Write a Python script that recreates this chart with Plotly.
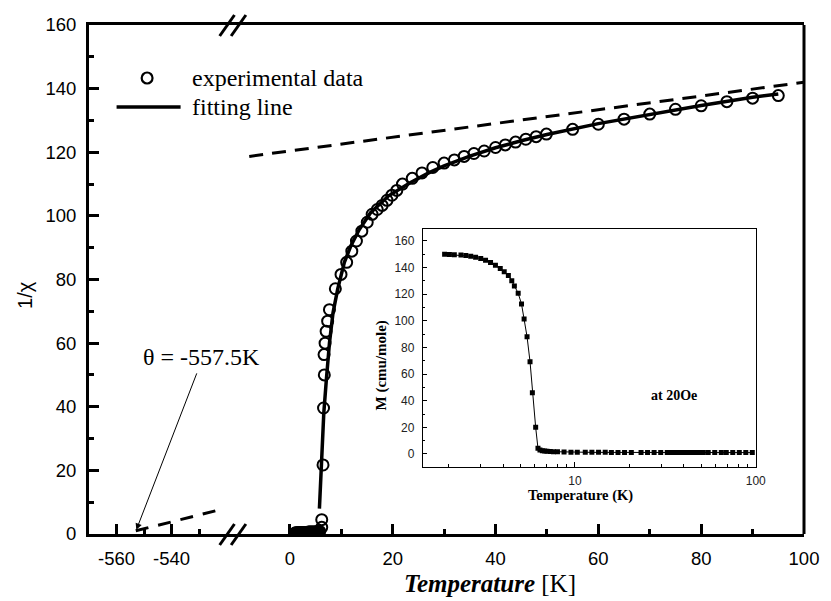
import plotly.graph_objects as go

# ---------------- data ----------------
# experimental 1/chi data (temperature in K)
exp_T = [1.0, 1.2, 1.4, 1.6, 1.8, 2.0, 2.2, 2.4, 2.6, 2.8, 3.0, 3.2, 3.4, 3.6, 3.8,
         4.0, 4.2, 4.4, 4.6, 4.8, 5.0, 5.2, 5.4, 5.6, 5.8,
         6.2, 6.2, 6.45, 6.55, 6.7, 6.65, 6.85, 7.05, 7.35, 7.7, 8.85, 9.95, 11.05,
         12.05, 12.95, 14.0, 15.05, 16.0, 17.0, 17.95, 18.9, 19.85, 20.8, 21.9,
         23.8, 25.7, 27.8, 30.0, 32.0, 33.9, 35.8, 37.8, 40.0, 41.9, 43.9, 45.9,
         47.9, 49.9, 55, 60, 65, 70, 75, 80, 85, 90, 95]
exp_Y = [0.3, 0.4, 0.4, 0.4, 0.5, 0.5, 0.5, 0.5, 0.5, 0.5, 0.5, 0.5, 0.5, 0.6, 0.6,
         0.6, 0.6, 0.6, 0.6, 0.6, 0.6, 0.7, 0.7, 0.7, 0.8,
         2.1, 4.5, 21.7, 39.6, 50.0, 56.4, 60.0, 63.7, 66.9, 70.5, 77.1, 81.6, 85.4,
         88.9, 92.1, 95.2, 98.0, 100.5, 102.0, 103.3, 104.9, 106.5, 108.0, 110.0,
         111.8, 113.5, 115.2, 116.6, 117.6, 118.7, 119.6, 120.4, 121.5, 122.3, 123.2, 124.1,
         124.9, 125.7, 127.2, 128.8, 130.4, 132.0, 133.5, 134.6, 135.9, 137.0, 137.8]

# fitting line
fit_T = [5.75, 6.1, 6.6, 7.1, 7.7, 8.4, 9.3, 10.6, 11.9, 13.5, 15.7, 19.2, 23.4,
         27, 30, 35, 40, 45, 50, 60, 70, 80, 90, 95]
fit_Y = [8, 22, 38, 48.5, 60, 69.6, 77, 85.4, 90.7, 95.7, 101, 106.3, 110.4,
         113.5, 115.7, 118.8, 121.4, 123.6, 125.6, 129, 131.9, 134.7, 137.3, 138.3]

# Curie-Weiss high temperature extrapolation (dashed), theta = -557.5 K
cw_T_left = [-553.0, -522.5]
cw_Y_left = [1.0, 7.6]
cw_T_right = [-7.9, 100]
cw_Y_right = [118.7, 142.0]

# inset: M vs T at 20 Oe
ins_T = [1.90, 2.02, 2.15, 2.34, 2.49, 2.65, 2.82, 3.01, 3.20, 3.41, 3.63, 3.86, 4.06,
         4.28, 4.47, 4.62, 4.85, 5.06, 5.23, 5.43, 5.64, 5.81, 6.06, 6.24,
         6.4, 6.6, 6.8, 7.0, 7.3, 7.6, 8.0, 8.7, 9.5, 10.3, 11.4, 12.4, 13.5, 14.7,
         15.9, 17.3, 18.8, 20.5, 23.2, 25.2, 27.4, 29.8, 32.4, 33.5, 34.6, 35.8, 37.0,
         38.2, 39.5, 40.8, 42.2, 43.6, 45.0, 46.5, 48.0, 49.6, 51.3, 54.6, 59.3, 64.5,
         68.7, 74.6, 81.1, 88.1, 95.7]
ins_M = [150.0, 149.8, 149.7, 149.4, 149.0, 148.5, 147.8, 146.9, 145.5, 143.9, 141.8,
         139.3, 136.8, 134.0, 130.2, 126.2, 120.7, 112.7, 101.4, 88.1, 69.3, 46.0,
         20.0, 4.3, 3.0, 2.5, 2.2, 2.0, 1.8, 1.7, 1.6, 1.4, 1.3, 1.3, 1.2, 1.2, 1.2,
         1.2, 1.1, 1.1, 1.1, 1.1, 1.1, 1.0, 1.0, 1.0, 1.0, 1.0, 1.0, 1.0, 1.0, 1.0,
         1.0, 1.0, 1.0, 1.0, 1.0, 1.0, 1.0, 1.0, 1.0, 1.0, 1.0, 1.0, 1.0, 1.0, 1.0,
         1.0, 1.0]

main_y_ticks = [0, 20, 40, 60, 80, 100, 120, 140, 160]
left_x_ticks = [-560, -540]
left_x_labels = ["-560", "-540"]
right_x_ticks = [0, 20, 40, 60, 80, 100]
inset_y_ticks = [0, 20, 40, 60, 80, 100, 120, 140, 160]
inset_x_ticks = [10, 100]

# ---------------- layout helpers ----------------
W, H = 831, 601
PL, PR, PT, PB = 89, 815, 25, 534


def px(x):
    return (x - PL) / (PR - PL)


def py(y):
    return (PB - y) / (PB - PT)


SERIF = "Liberation Serif, Times New Roman, serif"
SANS = "Liberation Sans, Arial, sans-serif"
BREAK = 235

fig = go.Figure()

# dashed Curie-Weiss line
fig.add_trace(go.Scatter(x=cw_T_left, y=cw_Y_left, xaxis="x", yaxis="y", mode="lines",
                         line=dict(color="black", width=3, dash="13px,10px"),
                         showlegend=False, hoverinfo="skip"))
fig.add_trace(go.Scatter(x=cw_T_right, y=cw_Y_right, xaxis="x2", yaxis="y", mode="lines",
                         line=dict(color="black", width=3, dash="14px,9px"),
                         showlegend=False, hoverinfo="skip"))
# fitting line
fig.add_trace(go.Scatter(x=fit_T, y=fit_Y, xaxis="x2", yaxis="y", mode="lines",
                         line=dict(color="black", width=3.5), name="fitting line",
                         showlegend=False))
# experimental data
fig.add_trace(go.Scatter(x=exp_T, y=exp_Y, xaxis="x2", yaxis="y", mode="markers",
                         cliponaxis=True,
                         marker=dict(symbol="circle-open", size=11, color="black",
                                     line=dict(width=2, color="black")),
                         name="experimental data", showlegend=False))
# inset
fig.add_trace(go.Scatter(x=ins_T, y=ins_M, xaxis="x3", yaxis="y3", mode="lines+markers",
                         line=dict(color="black", width=1),
                         marker=dict(symbol="square", size=5, color="black"),
                         showlegend=False))

tickfont_main = dict(family=SANS, size=18.5, color="black")
tickfont_ins = dict(family=SANS, size=12, color="#222")

fig.update_layout(
    width=W, height=H,
    margin=dict(l=PL, r=W - PR, t=PT, b=H - PB),
    paper_bgcolor="white", plot_bgcolor="white",
    xaxis=dict(domain=[0, px(BREAK)], range=[-570, -517.75], anchor="y",
               tickmode="array", tickvals=left_x_ticks, ticktext=left_x_labels,
               ticks="inside", ticklen=10,
               tickwidth=3, tickcolor="black", showline=True, linewidth=3,
               linecolor="black", mirror=True, showgrid=False, zeroline=False,
               tickfont=tickfont_main, ticklabelstandoff=6,
               minor=dict(tickmode="array", tickvals=[-550, -530], ticks="inside",
                          ticklen=5, tickwidth=3, tickcolor="black", showgrid=False)),
    xaxis2=dict(domain=[px(BREAK), 1], range=[-11.1, 100], anchor="y",
                tickmode="array", tickvals=right_x_ticks, ticks="inside", ticklen=10,
                tickwidth=3, tickcolor="black", showline=True, linewidth=3,
                linecolor="black", mirror=True, showgrid=False, zeroline=False,
                tickfont=tickfont_main, ticklabelstandoff=6,
                minor=dict(tickmode="array", tickvals=[10, 30, 50, 70, 90], ticks="inside",
                           ticklen=5, tickwidth=3, tickcolor="black", showgrid=False)),
    yaxis=dict(domain=[0, 1], range=[0, 160], anchor="x",
               tickmode="array", tickvals=main_y_ticks, ticks="inside", ticklen=10,
               tickwidth=3, tickcolor="black", showline=True, linewidth=3,
               linecolor="black", showgrid=False, zeroline=False,
               tickfont=tickfont_main, ticklabelstandoff=6,
               minor=dict(tickmode="array", tickvals=[10, 30, 50, 70, 90, 110, 130, 150],
                          ticks="inside", ticklen=5, tickwidth=3, tickcolor="black",
                          showgrid=False)),
    xaxis3=dict(domain=[px(428), px(766)], type="log", range=[0.1584, 2.0], anchor="y3",
                tickmode="array", tickvals=inset_x_ticks, ticktext=["10", "100"],
                ticks="inside", ticklen=5, tickwidth=1, tickcolor="black",
                showline=True, linewidth=1, linecolor="black", mirror=True,
                showgrid=False, zeroline=False, tickfont=tickfont_ins,
                ticklabelstandoff=3,
                minor=dict(tickmode="array",
                           tickvals=[2, 3, 4, 5, 6, 7, 8, 9, 20, 30, 40, 50, 60, 70, 80, 90],
                           ticks="inside", ticklen=3, tickwidth=1, tickcolor="black",
                           showgrid=False)),
    yaxis3=dict(domain=[py(467), py(229)], range=[-9.8, 169], anchor="x3",
                tickmode="array", tickvals=inset_y_ticks, ticks="inside", ticklen=4,
                tickwidth=1, tickcolor="black", showline=True, linewidth=1,
                linecolor="black", mirror=True, showgrid=False, zeroline=False,
                tickfont=tickfont_ins, ticklabelstandoff=5,
                minor=dict(tickmode="array",
                           tickvals=[10, 30, 50, 70, 90, 110, 130, 150],
                           ticks="inside", ticklen=2, tickwidth=1, tickcolor="black",
                           showgrid=False)),
)

shapes = []
# right frame line
shapes.append(dict(type="line", xref="paper", yref="paper", x0=1, x1=1, y0=0, y1=1,
                   line=dict(color="black", width=3)))
# axis break marks (bottom and top)
for (x0, y0, x1, y1) in [(221.7, 545, 236.7, 524), (233.3, 545, 248.3, 524),
                         (221.7, 36, 236.7, 15), (233.3, 36, 248.3, 15)]:
    shapes.append(dict(type="line", xref="paper", yref="paper",
                       x0=px(x0), y0=py(y0), x1=px(x1), y1=py(y1),
                       line=dict(color="black", width=3)))
# legend samples
shapes.append(dict(type="circle", xref="paper", yref="paper",
                   x0=px(142.5), x1=px(153.5), y0=py(83.5), y1=py(72.5),
                   line=dict(color="black", width=2.2)))
shapes.append(dict(type="line", xref="paper", yref="paper",
                   x0=px(117), x1=px(182), y0=py(107), y1=py(107),
                   line=dict(color="black", width=3.5)))
fig.update_layout(shapes=shapes)

ann = []
ann.append(dict(xref="paper", yref="paper", x=px(192), y=py(78), xanchor="left",
                yanchor="middle", showarrow=False, text="experimental data",
                font=dict(family=SERIF, size=24, color="black")))
ann.append(dict(xref="paper", yref="paper", x=px(192), y=py(107), xanchor="left",
                yanchor="middle", showarrow=False, text="fitting line",
                font=dict(family=SERIF, size=24, color="black")))
ann.append(dict(xref="paper", yref="paper", x=px(203.5), y=py(357), xanchor="center",
                yanchor="middle", showarrow=False, text="θ = -557.5K",
                font=dict(family=SERIF, size=24, color="black")))
ann.append(dict(xref="x", yref="y", x=-552.8, y=1.3, text="", showarrow=True,
                ax=61, ay=-158, arrowhead=2, arrowsize=1.3, arrowwidth=1,
                arrowcolor="black"))
ann.append(dict(xref="paper", yref="paper", x=px(24), y=py(295), xanchor="center",
                yanchor="middle", showarrow=False, text="1/χ", textangle=-90,
                font=dict(family=SANS, size=20, color="black")))
ann.append(dict(xref="paper", yref="paper", x=px(496), y=py(583), xanchor="center",
                yanchor="middle", showarrow=False,
                text="<b><i>Temperature</i></b> [K]",
                font=dict(family=SERIF, size=25, color="black")))
# inset texts
ann.append(dict(xref="paper", yref="paper", x=px(683), y=py(395), xanchor="center",
                yanchor="middle", showarrow=False, text="<b>at 20Oe</b>",
                font=dict(family=SERIF, size=14, color="black")))
ann.append(dict(xref="paper", yref="paper", x=px(588), y=py(495), xanchor="center",
                yanchor="middle", showarrow=False, text="<b>Temperature (K)</b>",
                font=dict(family=SERIF, size=14.5, color="black")))
ann.append(dict(xref="paper", yref="paper", x=px(385), y=py(366), xanchor="center",
                yanchor="middle", showarrow=False, text="<b>M (cmu/mole)</b>",
                textangle=-90, font=dict(family=SERIF, size=15, color="black")))
fig.update_layout(annotations=ann)

fig.write_html("out.html")
